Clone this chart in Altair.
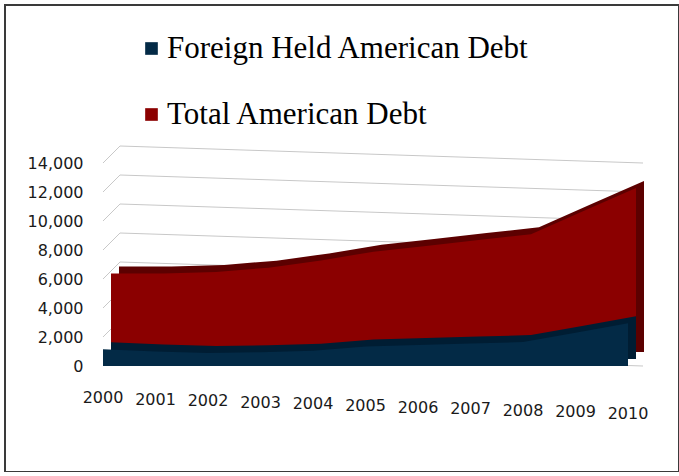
import altair as alt
import pandas as pd

# ---- data ----
years = [2000, 2001, 2002, 2003, 2004, 2005, 2006, 2007, 2008, 2009, 2010]
foreign = [1150, 1000, 900, 950, 1050, 1350, 1450, 1550, 1650, 2300, 2950]
total = [5900, 5900, 6000, 6300, 6800, 7400, 7800, 8200, 8600, 10200, 11800]
y_ticks = [0, 2000, 4000, 6000, 8000, 10000, 12000, 14000]
series_names = ["Foreign Held American Debt", "Total American Debt"]

front_colors = ["#032a46", "#8b0000"]
dark_colors = ["#001d33", "#5c0000"]

df_foreign = pd.DataFrame({"year": years, "value": foreign, "series": series_names[0]})
df_total = pd.DataFrame({"year": years, "value": total, "series": series_names[1]})
df_grid = pd.DataFrame({"v": y_ticks})
df_years = pd.DataFrame({"year": years})

xs = alt.Scale(domain=[2000, 2010], range=[98, 623])
ys = alt.Scale(domain=[0, 14000], range=[361, 158], nice=False, zero=False)

color = alt.Color(
    "series:N",
    scale=alt.Scale(domain=series_names, range=front_colors),
    legend=alt.Legend(
        orient="none", legendX=131, legendY=28, title=None,
        symbolType="square", symbolSize=160, symbolStrokeWidth=0,
        labelFont="Liberation Serif", labelFontSize=31, labelColor="#000000",
        labelOffset=0, rowPadding=34, padding=0, labelLimit=600,
    ),
)

yaxis = alt.Axis(
    grid=False, domain=False, ticks=False, tickSize=0, labelPadding=0,
    offset=-78, values=y_ticks, format=",d", title=None,
    labelFont="DejaVu Sans", labelFontSize=16, labelColor="#1a1a1a",
)

grid_side = alt.Chart(df_grid).mark_rule(color="#c8c8c8", strokeWidth=1, y2Offset=-17).encode(
    x=alt.value(98), x2=alt.value(115),
    y=alt.Y("v:Q", scale=ys, axis=yaxis), y2="v:Q",
)
grid_back = alt.Chart(df_grid).mark_rule(color="#c8c8c8", strokeWidth=1, yOffset=-17).encode(
    x=alt.value(115), x2=alt.value(638),
    y=alt.Y("v:Q", scale=ys, axis=None), y2="v:Q",
)

red_back = alt.Chart(df_total).mark_area(
    color=dark_colors[1], xOffset=16, yOffset=-14, y2Offset=-14
).encode(
    x=alt.X("year:Q", scale=xs, axis=None),
    y=alt.Y("value:Q", scale=ys, axis=None),
    y2=alt.value(367),
)
red_front = alt.Chart(df_total).mark_area(xOffset=8, yOffset=-7, y2Offset=-7).encode(
    x=alt.X("year:Q", scale=xs, axis=None),
    y=alt.Y("value:Q", scale=ys, axis=None),
    y2=alt.value(367),
    color=color,
)
blue_back = alt.Chart(df_foreign).mark_area(
    color=dark_colors[0], xOffset=8, yOffset=-7, y2Offset=-7
).encode(
    x=alt.X("year:Q", scale=xs, axis=None),
    y=alt.Y("value:Q", scale=ys, axis=None),
    y2=alt.value(367),
)
blue_front = alt.Chart(df_foreign).mark_area().encode(
    x=alt.X("year:Q", scale=xs, axis=None),
    y=alt.Y("value:Q", scale=ys, axis=None),
    y2=alt.value(367),
    color=color,
)

labels = alt.Chart(df_years).mark_text(
    font="DejaVu Sans", fontSize=16, color="#1a1a1a", baseline="middle", align="center"
).encode(
    x=alt.X("year:Q", scale=xs, axis=None),
    y=alt.Y("year:Q", scale=alt.Scale(domain=[2000, 2010], range=[393, 409]), axis=None),
    text=alt.Text("year:Q", format="d"),
)

chart = (
    alt.layer(grid_side, grid_back, red_back, red_front, blue_back, blue_front, labels)
    .resolve_scale(y="independent")
    .properties(
        width=674, height=467,
        padding={"left": 5, "top": 5, "right": 0, "bottom": 0},
        autosize=alt.AutoSizeParams(type="none"),
        background="#ffffff",
    )
    .configure_view(stroke="#3a3a3a", strokeWidth=2)
)

chart.save("out.html", embed_options={"renderer": "svg", "actions": False})
